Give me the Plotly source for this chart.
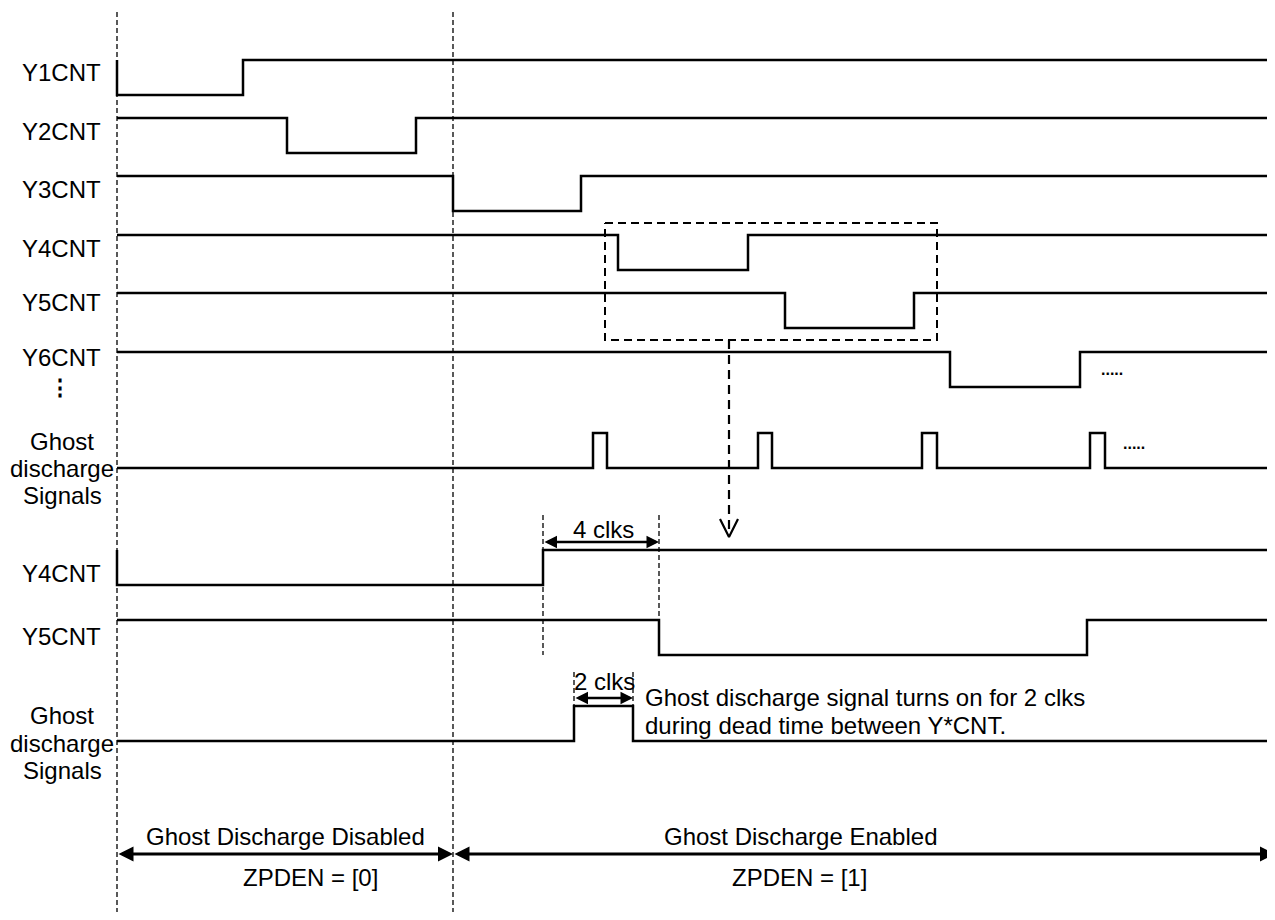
import plotly.graph_objects as go

FONT = "Liberation Sans, Arial, Helvetica, sans-serif"
FONT_SIZE = 24
INK = "#000000"

# drawing time axis (left edge of trace, mode switch, right edge)
T_START = 117
T_SPLIT = 453
T_END = 1275

# upper block: Y*CNT signals, every edge toggles the level (start high)
TOP_NAMES = ["Y1CNT", "Y2CNT", "Y3CNT", "Y4CNT", "Y5CNT", "Y6CNT"]
TOP_EDGES = [
    [117, 243],
    [287, 416],
    [453, 581],
    [618, 748],
    [785, 914],
    [950, 1080],
]
# ghost discharge pulses (start low)
GHOST_TOP_EDGES = [593, 607, 758, 772, 922, 937, 1090, 1105]

# zoomed block
ZOOM_NAMES = ["Y4CNT", "Y5CNT"]
ZOOM_EDGES = [
    [117, 543],
    [659, 1087],
]
GHOST_ZOOM_EDGES = [574, 633]

# layout of the rows (pixels from top)
TOP_HIGH = [60, 118, 176, 235, 293, 352]
TOP_LABEL_Y = [72, 131, 189, 248, 302, 357]
ZOOM_HIGH = [550, 620]
ZOOM_LABEL_Y = [573, 636]
SWING = 35
GHOST_TOP_LOW = 468
GHOST_ZOOM_LOW = 741
LABEL_X = 61

# the page body adds an 8px margin; shift the axes so units stay page pixels
PAGE_PAD = 8
PAGE_W = 1275
PAGE_H = 920


def step_xy(edges, high_y, low_y, start_high):
    level = start_high
    xs = [T_START]
    ys = [high_y if level else low_y]
    for edge in edges:
        xs += [edge, edge]
        ys.append(high_y if level else low_y)
        level = not level
        ys.append(high_y if level else low_y)
    xs.append(T_END)
    ys.append(high_y if level else low_y)
    return xs, ys


fig = go.Figure()


def add_wave(edges, high_y, low_y, start_high=True):
    xs, ys = step_xy(edges, high_y, low_y, start_high)
    fig.add_trace(
        go.Scatter(
            x=xs, y=ys, mode="lines",
            line={"color": INK, "width": 2.5},
            hoverinfo="skip",
        )
    )


def add_vline(x, y0, y1, dash="5px,3px", width=1.3):
    fig.add_trace(
        go.Scatter(
            x=[x, x], y=[y0, y1], mode="lines",
            line={"color": INK, "width": width, "dash": dash},
            hoverinfo="skip",
        )
    )


def add_text(x, y, text, anchor="center", size=FONT_SIZE):
    fig.add_annotation(
        x=x, y=y, text=text, showarrow=False,
        xanchor=anchor, yanchor="middle",
        font={"family": FONT, "size": size, "color": INK},
    )


def add_double_arrow(x0, x1, y, width):
    fig.add_annotation(
        x=x1, y=y, ax=x0, ay=y,
        xref="x", yref="y", axref="x", ayref="y",
        text="", showarrow=True,
        arrowhead=2, startarrowhead=2, arrowside="end+start",
        arrowsize=1.0, startarrowsize=1.0,
        arrowwidth=width, arrowcolor=INK,
    )


# mode boundaries
add_vline(T_START, 12, PAGE_H)
add_vline(T_SPLIT, 12, PAGE_H)

# upper block
for name, edges, high, label_y in zip(TOP_NAMES, TOP_EDGES, TOP_HIGH, TOP_LABEL_Y):
    add_wave(edges, high, high + SWING)
    add_text(LABEL_X, label_y, name)
add_text(LABEL_X - 1, 387, "<b>⋮</b>", size=22)
add_text(1112, 369, "<b>.....</b>", size=16)

add_wave(GHOST_TOP_EDGES, GHOST_TOP_LOW - SWING, GHOST_TOP_LOW, start_high=False)
for dy, line in zip([-27, 0, 27], ["Ghost", "discharge", "Signals"]):
    add_text(LABEL_X + 1, GHOST_TOP_LOW + dy, line)
add_text(1134, 443, "<b>.....</b>", size=16)

# highlight box around Y4/Y5 and the arrow down to the zoomed view
BOX_X = [605, 937]
BOX_Y = [223, 340]
fig.add_trace(
    go.Scatter(
        x=[BOX_X[0], BOX_X[1], BOX_X[1], BOX_X[0], BOX_X[0]],
        y=[BOX_Y[0], BOX_Y[0], BOX_Y[1], BOX_Y[1], BOX_Y[0]],
        mode="lines",
        line={"color": INK, "width": 2, "dash": "8px,5px"},
        hoverinfo="skip",
    )
)
DROP_X = 729
DROP_TIP = 537
add_vline(DROP_X, BOX_Y[1], DROP_TIP - 3, dash="9px,6px", width=2.2)
fig.add_trace(
    go.Scatter(
        x=[DROP_X - 9, DROP_X, DROP_X + 9],
        y=[DROP_TIP - 18, DROP_TIP, DROP_TIP - 18],
        mode="lines",
        line={"color": INK, "width": 2.2},
        hoverinfo="skip",
    )
)

# zoomed block
for name, edges, high, label_y in zip(ZOOM_NAMES, ZOOM_EDGES, ZOOM_HIGH, ZOOM_LABEL_Y):
    add_wave(edges, high, high + SWING)
    add_text(LABEL_X, label_y, name)

add_wave(GHOST_ZOOM_EDGES, GHOST_ZOOM_LOW - SWING, GHOST_ZOOM_LOW, start_high=False)
for dy, line in zip([-26, 2, 29], ["Ghost", "discharge", "Signals"]):
    add_text(LABEL_X + 1, GHOST_ZOOM_LOW + dy, line)

# 4 clks dead time
add_vline(ZOOM_EDGES[0][1], 515, ZOOM_HIGH[1] + SWING)
add_vline(ZOOM_EDGES[1][0], 515, ZOOM_HIGH[1])
add_double_arrow(ZOOM_EDGES[0][1], ZOOM_EDGES[1][0], 542, 2.5)
add_text(603, 529, "4 clks")

# 2 clks pulse
add_vline(GHOST_ZOOM_EDGES[0], 672, GHOST_ZOOM_LOW - SWING)
add_vline(GHOST_ZOOM_EDGES[1], 672, GHOST_ZOOM_LOW - SWING)
add_double_arrow(GHOST_ZOOM_EDGES[0], GHOST_ZOOM_EDGES[1], 698, 2.5)
add_text(604, 681, "2 clks")
add_text(643, 697, "Ghost discharge signal turns on for 2 clks", anchor="left")
add_text(643, 725, "during dead time between Y*CNT.", anchor="left")

# ZPDEN ranges
add_double_arrow(T_START, T_SPLIT, 854, 3)
add_double_arrow(T_SPLIT, T_END, 854, 3)
add_text(285, 836, "Ghost Discharge Disabled")
add_text(801, 836, "Ghost Discharge Enabled")
add_text(310, 877, "ZPDEN = [0]")
add_text(799, 877, "ZPDEN = [1]")

fig.update_layout(
    width=PAGE_W - PAGE_PAD,
    height=PAGE_H - 2 * PAGE_PAD,
    margin={"l": 0, "r": 0, "t": 0, "b": 0},
    paper_bgcolor="white",
    plot_bgcolor="white",
    showlegend=False,
    xaxis={"range": [PAGE_PAD, PAGE_W], "visible": False, "fixedrange": True},
    yaxis={"range": [PAGE_H - PAGE_PAD, PAGE_PAD], "visible": False,
           "fixedrange": True},
)

fig.write_html("out.html")
